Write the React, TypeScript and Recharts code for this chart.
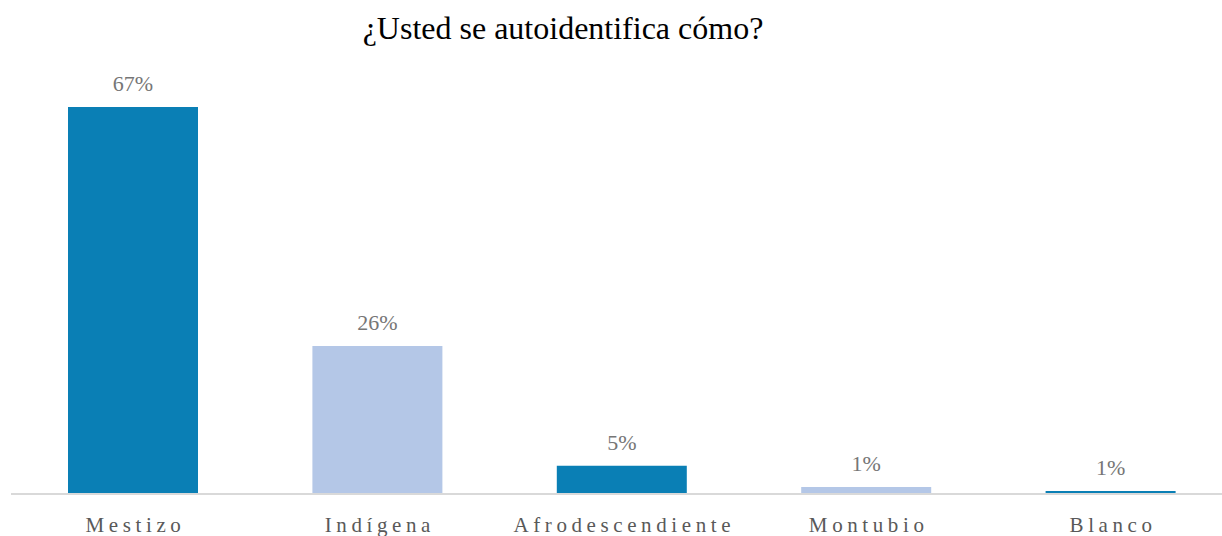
import { Bar, BarChart, Cell, LabelList, XAxis, YAxis } from "recharts";

// Labels in the source are rounded percentages.
const categories = ["Mestizo", "Indígena", "Afrodescendiente", "Montubio", "Blanco"];
const shares = [67.2, 25.7, 4.9, 1.2, 0.5];
const title = "¿Usted se autoidentifica cómo?";

const COLOURS = ["#0a7fb5", "#b4c7e7"];
const SERIF = "'Liberation Serif', 'Times New Roman', serif";
const SPACING = 4.6;

const rows = categories.map((name, i) => ({ name, share: shares[i] }));

function CategoryTick(props: any) {
  const { x, y, payload } = props;
  return (
    <text
      x={x + SPACING / 2}
      y={y}
      dy={38}
      textAnchor="middle"
      fill="#595959"
      fontFamily={SERIF}
      fontSize={21}
      letterSpacing={SPACING}
    >
      {payload.value}
    </text>
  );
}

function ShareLabel(props: any) {
  const { x, y, width, value } = props;
  return (
    <text
      x={x + width / 2}
      y={y - 16}
      textAnchor="middle"
      fill="#767676"
      fontFamily={SERIF}
      fontSize={22}
    >
      {`${Math.round(value)}%`}
    </text>
  );
}

export default function App() {
  return (
    <div style={{ position: "absolute", left: 0, top: 0, width: 1222, height: 536, background: "#fff" }}>
      <div
        style={{
          position: "absolute",
          left: 0,
          width: 1126,
          top: 8,
          textAlign: "center",
          fontFamily: SERIF,
          fontSize: 32,
          lineHeight: "40px",
          color: "#000",
        }}
      >
        {title}
      </div>
      <BarChart
        width={1222}
        height={536}
        data={rows}
        margin={{ top: 91, right: -11, left: 11, bottom: 0 }}
        barSize={130}
      >
        <XAxis
          dataKey="name"
          height={42}
          tickLine={false}
          tickSize={0}
          tickMargin={0}
          axisLine={{ stroke: "#d9d9d9", strokeWidth: 2 }}
          tick={<CategoryTick />}
          interval={0}
        />
        <YAxis hide domain={[0, 70]} />
        <Bar dataKey="share" isAnimationActive={false}>
          {rows.map((r, i) => (
            <Cell key={r.name} fill={COLOURS[i % COLOURS.length]} />
          ))}
          <LabelList dataKey="share" content={<ShareLabel />} />
        </Bar>
      </BarChart>
    </div>
  );
}
